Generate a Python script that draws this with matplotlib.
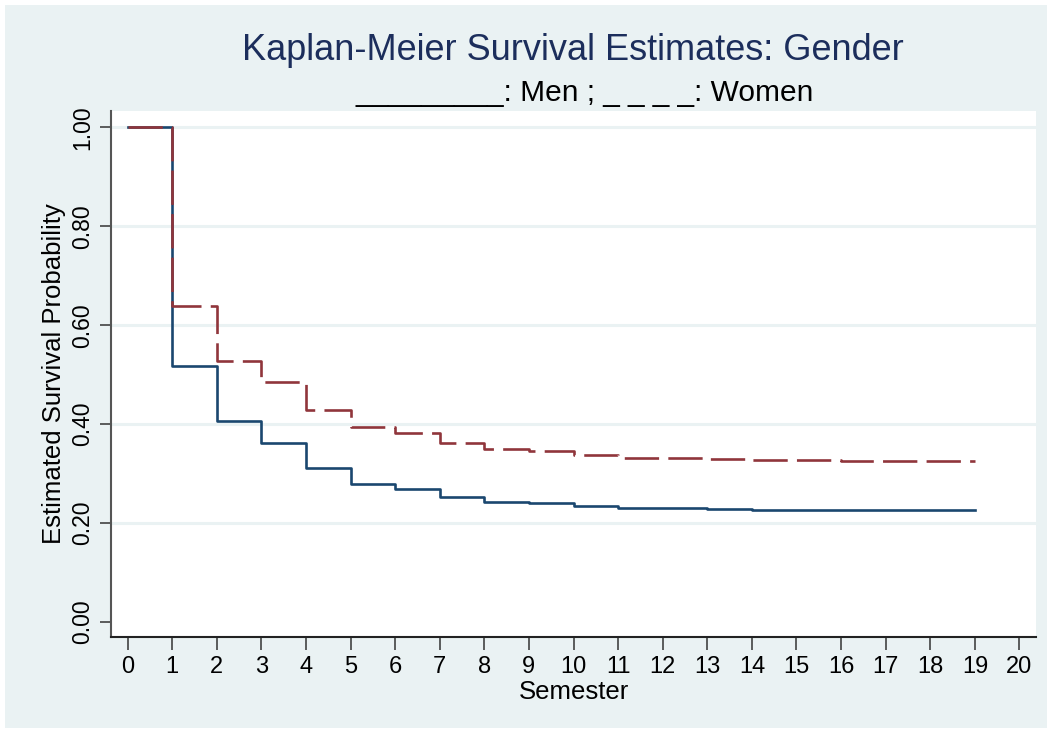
import matplotlib
matplotlib.use("Agg")
import matplotlib.pyplot as plt
from matplotlib.patches import Rectangle

# Data (survival estimates at start of each semester interval)
semesters = list(range(0, 20))
men = [1.000, 0.518, 0.407, 0.363, 0.311, 0.279, 0.270, 0.252, 0.243, 0.240,
       0.235, 0.230, 0.230, 0.228, 0.226, 0.226, 0.226, 0.226, 0.226, 0.226]
women = [1.000, 0.638, 0.527, 0.485, 0.428, 0.395, 0.382, 0.362, 0.350, 0.345,
         0.337, 0.332, 0.331, 0.329, 0.327, 0.327, 0.326, 0.326, 0.326, 0.326]
xticks = list(range(0, 21))
yticks = [0.0, 0.2, 0.4, 0.6, 0.8, 1.0]
ytick_labels = ["0.00", "0.20", "0.40", "0.60", "0.80", "1.00"]

title = "Kaplan-Meier Survival Estimates: Gender"
subtitle = "_________: Men ; _ _ _ _: Women"

plt.rcParams['font.family'] = ['Liberation Sans', 'DejaVu Sans']

W, H = 1052, 733
fig = plt.figure(figsize=(W / 100, H / 100), dpi=100, facecolor="white")
bg = Rectangle((5 / W, 5 / H), (W - 10) / W, (H - 10) / H, transform=fig.transFigure,
               facecolor="#EAF2F3", edgecolor="none", zorder=-10)
fig.patches.append(bg)

ax = fig.add_axes([111 / W, (H - 637) / H, (1036 - 111) / W, (637 - 111) / H])
ax.set_facecolor("white")

navy = "#1a476f"
maroon = "#90353b"

ax.step(semesters, men, where="post", color=navy, lw=1.9, zorder=3)
ln, = ax.step(semesters, women, where="post", color=maroon, lw=1.9, zorder=4)
ln.set_dashes((13, 3.5))

ax.set_xlim(-0.37, 20.37)
ax.set_ylim(-0.030, 1.033)

ax.set_xticks(xticks)
ax.set_xticklabels([str(x) for x in xticks], fontsize=17)
ax.set_yticks(yticks)
ax.set_yticklabels(ytick_labels, fontsize=16.5, rotation=90, va="center")

for y in yticks[1:]:
    ax.axhline(y, color="#EAF2F3", lw=2.2, zorder=1)

for s in ["top", "right"]:
    ax.spines[s].set_visible(False)
ax.spines["left"].set_color("#555555")
ax.spines["left"].set_linewidth(1.5)
ax.spines["bottom"].set_color("#222222")
ax.spines["bottom"].set_linewidth(1.5)

ax.tick_params(axis="y", length=8, width=1.1, color="#333333", pad=4)
ax.tick_params(axis="x", length=9, width=1.1, color="#333333", pad=5)

ax.set_xlabel("Semester", fontsize=18.5, labelpad=1)
ax.set_ylabel("Estimated Survival Probability", fontsize=18.5, labelpad=4)

fig.text(573 / W, 1 - 51 / H, title, fontsize=26, color="#1c2e5c",
         ha="center", va="center")
fig.text(585 / W, 1 - 93 / H, subtitle, fontsize=21.5, color="black",
         ha="center", va="center")

fig.savefig("out.png", dpi=100, facecolor="white")
